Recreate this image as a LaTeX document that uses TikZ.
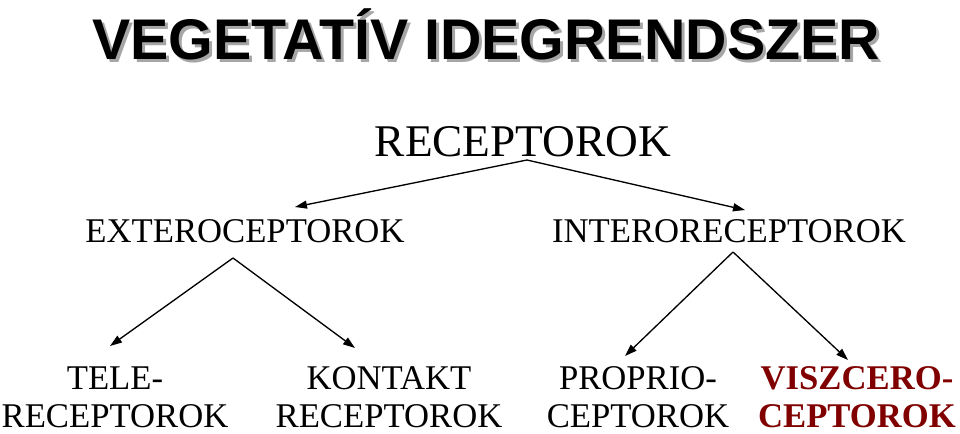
\documentclass[tikz,border=0pt]{standalone}
\usepackage{fontspec}
\setmainfont{Liberation Serif}
\newfontfamily\arialf{Liberation Sans}
\usetikzlibrary{arrows.meta}
\definecolor{dred}{RGB}{128,0,0}
\begin{document}
\begin{tikzpicture}[x=0.75pt,y=-0.75pt,
  lbl/.style={inner sep=0pt,font=\fontsize{26}{28.5}\selectfont},
  arr/.style={draw=black,line width=1pt,-{Triangle[length=9pt,width=6pt]}}]
\useasboundingbox (0,0) rectangle (960,433);
\node[inner sep=0pt,text=gray!70,font=\arialf\bfseries\fontsize{43}{46}\selectfont] at (489,37) {VEGETATÍV IDEGRENDSZER};
\node[inner sep=0pt,font=\arialf\bfseries\fontsize{43}{46}\selectfont] (title) at (486,34) {VEGETATÍV IDEGRENDSZER};
\node[inner sep=0pt,font=\fontsize{34}{37}\selectfont] (rec) at (523,142) {RECEPTOROK};
\node[lbl] (ext) at (245,231) {EXTEROCEPTOROK};
\node[lbl] (int) at (729,231) {INTERORECEPTOROK};
\node[lbl,align=center] (tele) at (115,397) {TELE-\\RECEPTOROK};
\node[lbl,align=center] (kont) at (389,397) {KONTAKT\\RECEPTOROK};
\node[lbl,align=center] (prop) at (638,397) {PROPRIO-\\CEPTOROK};
\node[lbl,align=center,text=dred,font=\bfseries\fontsize{26}{28.5}\selectfont] (visz) at (857,397) {VISZCERO-\\CEPTOROK};
\coordinate (r0) at (527,160);
\coordinate (e0) at (233,258);
\coordinate (i0) at (733,252);
\draw[arr] (r0) -- (295,207);
\draw[arr] (r0) -- (745,210);
\draw[arr] (e0) -- (110,346);
\draw[arr] (e0) -- (355,348);
\draw[arr] (i0) -- (625,356);
\draw[arr] (i0) -- (848,360);
\end{tikzpicture}
\end{document}
